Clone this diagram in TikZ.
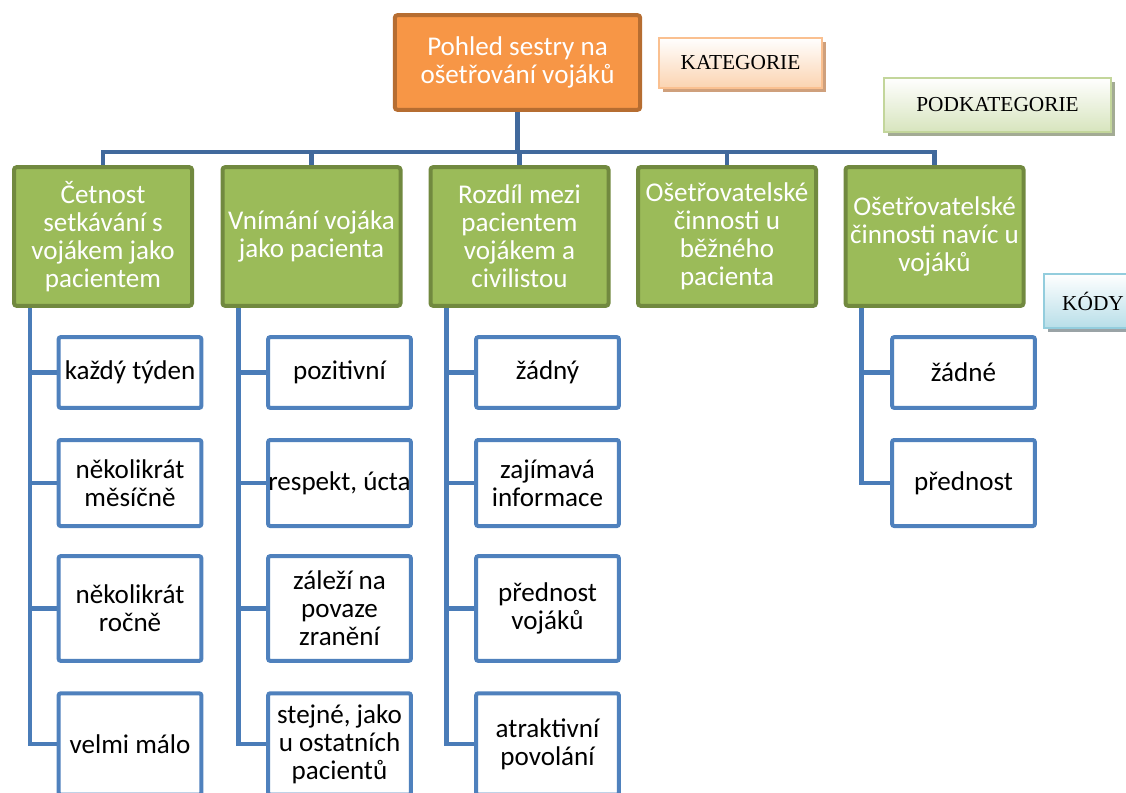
\documentclass[tikz,border=0pt]{standalone}
\usepackage{fontspec}
\setmainfont{Carlito}
\newfontfamily\tnr{Liberation Serif}
\usetikzlibrary{backgrounds,shadows}
\definecolor{orfill}{HTML}{F79646}
\definecolor{orline}{HTML}{B66D31}
\definecolor{grfill}{HTML}{9BBB59}
\definecolor{grline}{HTML}{71893F}
\definecolor{lfline}{HTML}{4F81BD}
\definecolor{busc}{HTML}{41699C}
\definecolor{colc}{HTML}{4A7CB8}
\definecolor{katline}{HTML}{FAC090}
\definecolor{katfill}{HTML}{FBD3B0}
\definecolor{katshad}{HTML}{CFA07C}
\definecolor{podline}{HTML}{C3D69B}
\definecolor{podfill}{HTML}{D7E4BD}
\definecolor{podshad}{HTML}{A3AB94}
\definecolor{kodline}{HTML}{93CDDD}
\definecolor{kodfill}{HTML}{B7DEE8}
\definecolor{kodshad}{HTML}{9AA3A6}
\begin{document}
\begin{tikzpicture}[x=0.75pt,y=-0.75pt,
  txt/.style={align=center,inner sep=0pt,font=\fontsize{20.3pt}{21pt}\selectfont},
  topbox/.style={txt,draw=orline,fill=orfill,line width=3pt,rounded corners=2pt,text=white,minimum width=184pt,minimum height=71pt},
  catbox/.style={txt,draw=grline,fill=grfill,line width=3pt,rounded corners=2pt,text=white,minimum width=133.5pt,minimum height=104pt},
  leaf/.style={txt,draw=lfline,fill=white,line width=3pt,rounded corners=1.5pt,text=black,minimum width=107pt},
  hA/.style={minimum height=53pt},
  hB/.style={minimum height=64.5pt},
  hC/.style={minimum height=78.5pt},
  hD/.style={minimum height=76pt},
  lab/.style={inner sep=0pt,line width=1.5pt,font=\tnr\fontsize{16pt}{18pt}\selectfont},
  bus/.style={draw=busc,line width=3.5pt},
  colline/.style={draw=colc,line width=3.5pt},
]
\useasboundingbox (0,0) rectangle (1126,792);
\clip (0,0) rectangle (1126,792);

\node[topbox] (top) at (517.5,62.5) {Pohled sestry na\\ošetřování vojáků};

\node[lab,draw=katline,top color=white,bottom color=katfill,
  drop shadow={shadow xshift=3pt,shadow yshift=-3pt,fill=katshad,opacity=1},
  minimum width=122pt,minimum height=38pt] (kat) at (740.5,63) {KATEGORIE};
\node[lab,draw=podline,top color=white,bottom color=podfill,
  drop shadow={shadow xshift=3pt,shadow yshift=-3pt,fill=podshad,opacity=1},
  minimum width=170pt,minimum height=41pt] (pod) at (997.5,105) {PODKATEGORIE};
\node[lab,draw=kodline,top color=white,bottom color=kodfill,
  drop shadow={shadow xshift=3pt,shadow yshift=-3pt,fill=kodshad,opacity=1},
  minimum width=74pt,minimum height=41pt] (kod) at (1093,301) {KÓDY};

\node[catbox] (g1) at (103,236.5) {Četnost\\setkávání s\\vojákem jako\\pacientem};
\node[catbox] (g2) at (311.5,236.5) {Vnímání vojáka\\jako pacienta};
\node[catbox] (g3) at (519.5,236.5) {Rozdíl mezi\\pacientem\\vojákem a\\civilistou};
\node[catbox] (g4) at (727,236.5) {Ošetřovatelské\\činnosti u\\běžného\\pacienta};
\node[catbox] (g5) at (934.5,236.5) {Ošetřovatelské\\činnosti navíc u\\vojáků};

\node[leaf,hA] (a1) at (130,372.5) {každý týden};
\node[leaf,hB] (a2) at (130,483) {několikrát\\měsíčně};
\node[leaf,hC] (a3) at (130,608.5) {několikrát\\ročně};
\node[leaf,hD] (a4) at (130,744) {velmi málo};

\node[leaf,hA] (b1) at (339.5,372.5) {pozitivní};
\node[leaf,hB] (b2) at (339.5,483) {respekt, úcta};
\node[leaf,hC] (b3) at (339.5,608.5) {záleží na\\povaze\\zranění};
\node[leaf,hD] (b4) at (339.5,744) {stejné, jako\\u ostatních\\pacientů};

\node[leaf,hA] (c1) at (547.5,372.5) {žádný};
\node[leaf,hB] (c2) at (547.5,483) {zajímavá\\informace};
\node[leaf,hC] (c3) at (547.5,608.5) {přednost\\vojáků};
\node[leaf,hD] (c4) at (547.5,744) {atraktivní\\povolání};

\node[leaf,hA] (e1) at (963.5,372.5) {žádné};
\node[leaf,hB] (e2) at (963.5,483) {přednost};

\begin{pgfonlayer}{background}
\coordinate (busy) at (0,152);
\draw[bus] (top.south) -- (top.south |- busy);
\draw[bus] (g1.north) -- (g1.north |- busy) -- (g5.north |- busy) -- (g5.north);
\foreach \g in {g2,g3,g4} \draw[bus] (\g.north) -- (\g.north |- busy);
\foreach \l in {a1,a2,a3,a4} \draw[colline] ([xshift=13.5pt]g1.south west) |- (\l.west);
\foreach \l in {b1,b2,b3,b4} \draw[colline] ([xshift=13.5pt]g2.south west) |- (\l.west);
\foreach \l in {c1,c2,c3,c4} \draw[colline] ([xshift=13.5pt]g3.south west) |- (\l.west);
\foreach \l in {e1,e2} \draw[colline] ([xshift=13.5pt]g5.south west) |- (\l.west);
\end{pgfonlayer}
\end{tikzpicture}
\end{document}
